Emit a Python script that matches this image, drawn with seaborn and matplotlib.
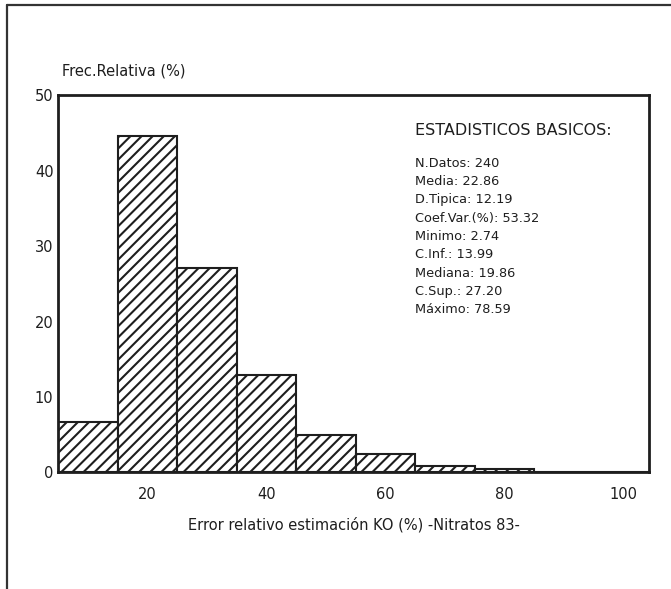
import matplotlib
matplotlib.use("Agg")
import matplotlib.pyplot as plt
import numpy as np
import pandas as pd
import seaborn as sns

# Histogram of relative kriging error (10-unit classes), in % of 240 data
bin_edges = [5, 15, 25, 35, 45, 55, 65, 75, 85, 95, 105]
bin_centers = [10, 20, 30, 40, 50, 60, 70, 80, 90, 100]
counts = [16, 107, 65, 31, 12, 6, 2, 1, 0, 0]
n_total = 240
freq_pct = [100.0 * c / n_total for c in counts]

x_ticks = [20, 40, 60, 80, 100]
y_ticks = [0, 10, 20, 30, 40, 50]

stats_title = "ESTADISTICOS BASICOS:"
stats_lines = [
    "N.Datos: 240",
    "Media: 22.86",
    "D.Tipica: 12.19",
    "Coef.Var.(%): 53.32",
    "Minimo: 2.74",
    "C.Inf.: 13.99",
    "Mediana: 19.86",
    "C.Sup.: 27.20",
    "Máximo: 78.59",
]

sns.set_theme(style="white")
plt.rcParams["font.family"] = ["DejaVu Sans"]
plt.rcParams["hatch.linewidth"] = 1.5

INK = "#1e1e1e"
df = pd.DataFrame({"x": bin_centers, "w": freq_pct})

fig = plt.figure(figsize=(6.71, 5.89), dpi=100)
ax = fig.add_axes([0.087, 0.198, 0.880, 0.640])

sns.histplot(data=df, x="x", weights="w", bins=bin_edges, ax=ax,
             stat="count", color="white", edgecolor=INK, linewidth=1.5,
             alpha=1.0)
for p in ax.patches:
    p.set_hatch("///")
    p.set_facecolor("white")
    p.set_edgecolor(INK)

ax.set_xlim(5, 104.3)
ax.set_ylim(0, 50)
ax.set_xticks(x_ticks)
ax.set_yticks(y_ticks)
ax.tick_params(axis="x", length=0, labelsize=10.5, colors=INK, pad=10.5)
ax.tick_params(axis="y", length=0, labelsize=10.5, colors=INK, pad=3.5)
for s in ax.spines.values():
    s.set_visible(True)
    s.set_color(INK)
    s.set_linewidth(2.0)

ax.set_xlabel("Error relativo estimación KO (%) -Nitratos 83-", fontsize=10.5,
              color=INK, labelpad=11)
ax.set_ylabel("")
ax.text(0.006, 1.065, "Frec.Relativa (%)", transform=ax.transAxes,
        fontsize=10.5, color=INK, ha="left", va="center")

ax.text(0.604, 0.908, stats_title, transform=ax.transAxes, fontsize=11.5,
        color=INK, ha="left", va="center")
for i, line in enumerate(stats_lines):
    ax.text(0.604, 0.820 - i * 0.0486, line, transform=ax.transAxes,
            fontsize=9.3, color=INK, ha="left", va="center")

# page frame (top and left edges)
fig.add_artist(plt.Line2D([0.010, 1.0], [0.991, 0.991], transform=fig.transFigure,
                          color="#333333", linewidth=1.6))
fig.add_artist(plt.Line2D([0.010, 0.010], [0.0, 0.991], transform=fig.transFigure,
                          color="#333333", linewidth=1.6))

fig.savefig("out.png", dpi=100, facecolor="white")
